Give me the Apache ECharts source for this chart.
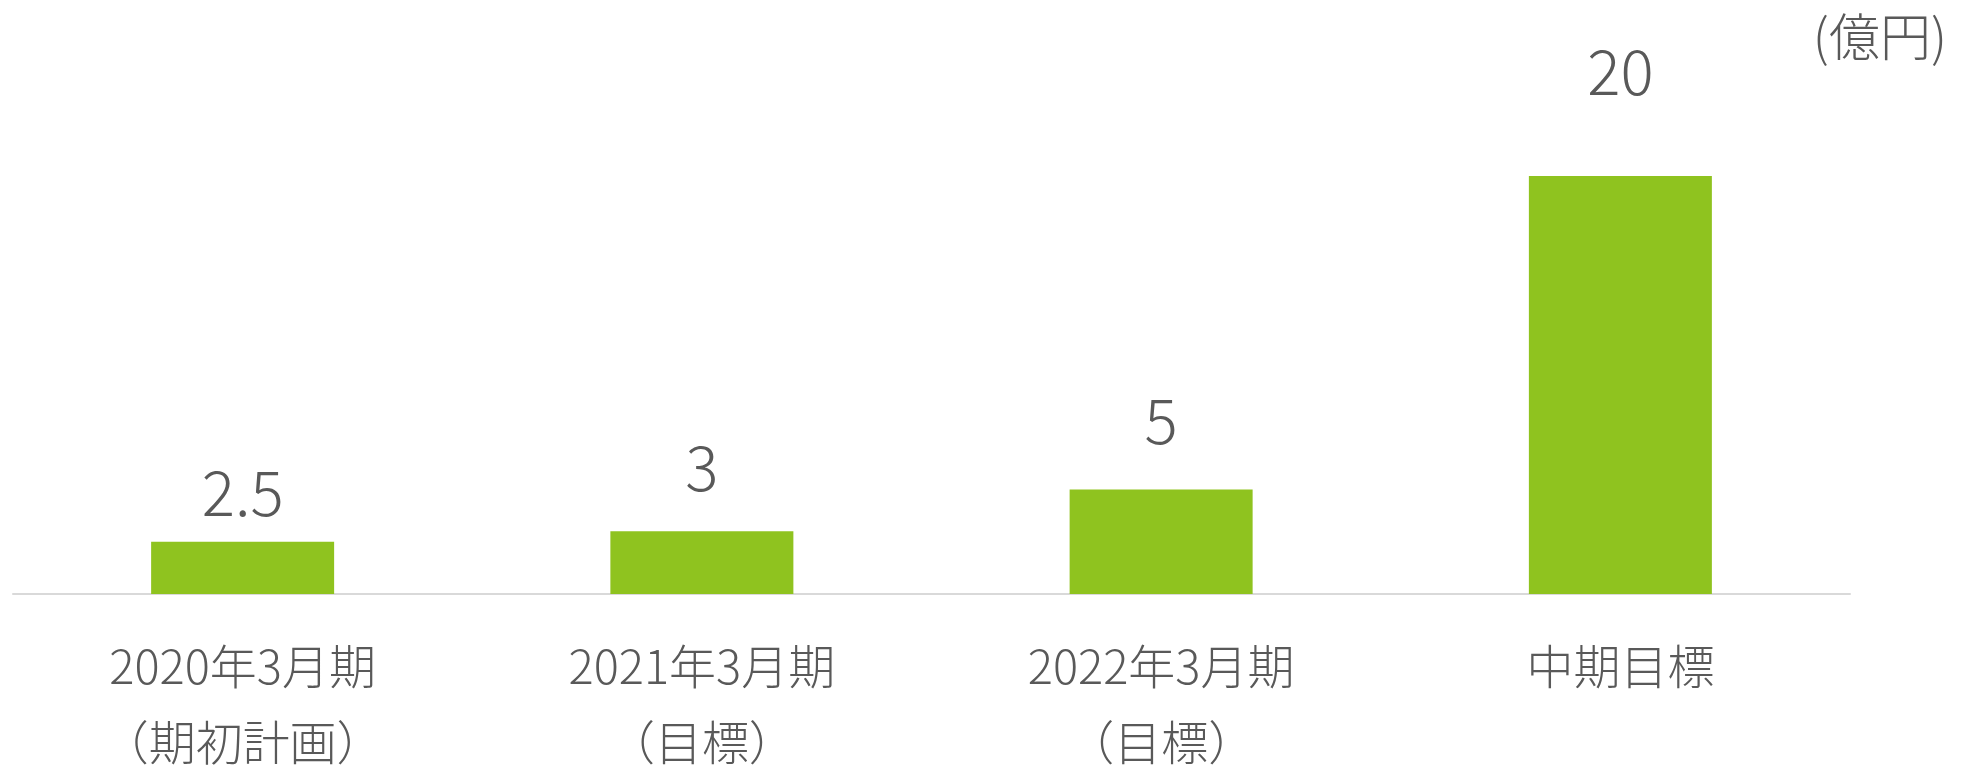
<!DOCTYPE html>
<html>
	<head>
		<meta charset="utf-8" />
		<title></title>
		<script src="https://cdn.jsdelivr.net/npm/echarts@6/dist/echarts.min.js"></script>
		<style>
			html, body { margin: 0; padding: 0; background: #fff; }
		</style>
	</head>
	<body>
		<div id="main" style="width: 1972px; height: 770px;"></div>
		<script>
		// カテゴリと値
		var categories = ['2020年3月期\n（期初計画）', '2021年3月期\n（目標）', '2022年3月期\n（目標）', '中期目標'];
		var values = [2.5, 3, 5, 20];
		var unitText = '(億円)';

		// ラベルと棒の間隔（元図に合わせる）
		var labelGap = [18, 33, 38, 74];

		var font = '"Noto Sans CJK JP", "Noto Sans", sans-serif';
		var myChart = echarts.init(document.getElementById('main'));

		var seriesData = values.map(function (v, i) {
			return {
				value: v,
				label: { distance: labelGap[i] }
			};
		});

		var option = {
			animation: false,
			title: {
				text: unitText,
				right: 20,
				top: 6,
				textStyle: {
					fontFamily: font,
					fontSize: 51,
					fontWeight: 300,
					color: '#595959'
				}
			},
			grid: {
				left: 13,
				right: 122,
				top: 176,
				bottom: 176,
				outerBoundsMode: 'none'
			},
			xAxis: {
				type: 'category',
				data: categories,
				axisLine: {
					lineStyle: { color: '#d9d9d9', width: 2 }
				},
				axisTick: { show: false },
				axisLabel: {
					margin: 34,
					fontFamily: font,
					fontSize: 47,
					fontWeight: 300,
					lineHeight: 76,
					color: '#595959'
				}
			},
			yAxis: {
				type: 'value',
				show: false,
				min: 0,
				max: 20,
				splitLine: { show: false }
			},
			series: [{
				type: 'bar',
				barWidth: 183,
				itemStyle: { color: '#8fc31f' },
				label: {
					show: true,
					position: 'top',
					fontFamily: font,
					fontSize: 62,
					fontWeight: 300,
					lineHeight: 62,
					color: '#595959'
				},
				data: seriesData
			}]
		};
		myChart.setOption(option);
		</script>
	</body>
</html>
